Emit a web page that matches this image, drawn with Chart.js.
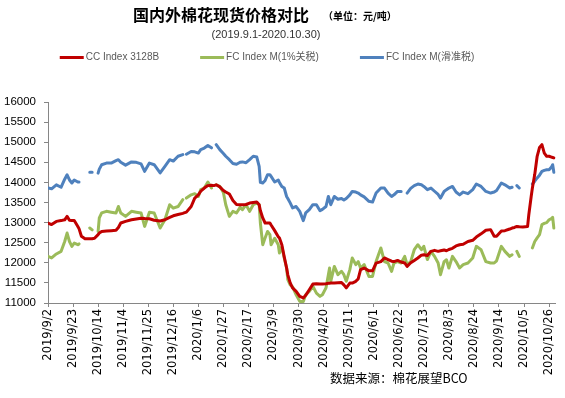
<!DOCTYPE html>
<html>
<head>
<meta charset="utf-8">
<script src="https://cdn.jsdelivr.net/npm/chart.js@4.4.0/dist/chart.umd.min.js"></script>
<style>
  html, body { margin: 0; padding: 0; background: #fff; }
  canvas { display: block; }
</style>
</head>
<body>
<canvas id="priceChart" width="565" height="398"></canvas>
<script>
// values (yuan / ton)
const dates = [
  '2019/9/2', '2019/9/5', '2019/9/9', '2019/9/13', '2019/9/16', '2019/9/18', '2019/9/20', '2019/9/22',
  '2019/9/24', '2019/9/27', '2019/9/28', '2019/9/30', '2019/10/3', '2019/10/7', '2019/10/9', '2019/10/11',
  '2019/10/14', '2019/10/15', '2019/10/17', '2019/10/21', '2019/10/25', '2019/10/29', '2019/10/31', '2019/11/2',
  '2019/11/6', '2019/11/11', '2019/11/15', '2019/11/19', '2019/11/22', '2019/11/26', '2019/11/30', '2019/12/5',
  '2019/12/9', '2019/12/13', '2019/12/16', '2019/12/20', '2019/12/24', '2019/12/25', '2019/12/27', '2019/12/31',
  '2020/1/3', '2020/1/6', '2020/1/8', '2020/1/11', '2020/1/14', '2020/1/17', '2020/1/19', '2020/1/21',
  '2020/1/24', '2020/1/27', '2020/1/29', '2020/2/1', '2020/2/4', '2020/2/7', '2020/2/10', '2020/2/12',
  '2020/2/15', '2020/2/18', '2020/2/21', '2020/2/24', '2020/2/26', '2020/2/27', '2020/2/29', '2020/3/2',
  '2020/3/4', '2020/3/6', '2020/3/7', '2020/3/10', '2020/3/13', '2020/3/14', '2020/3/16', '2020/3/18',
  '2020/3/20', '2020/3/21', '2020/3/23', '2020/3/25', '2020/3/28', '2020/3/31', '2020/4/3', '2020/4/5',
  '2020/4/8', '2020/4/11', '2020/4/14', '2020/4/17', '2020/4/19', '2020/4/22', '2020/4/24', '2020/4/25',
  '2020/4/26', '2020/4/29', '2020/5/2', '2020/5/5', '2020/5/7', '2020/5/9', '2020/5/12', '2020/5/14',
  '2020/5/17', '2020/5/19', '2020/5/21', '2020/5/24', '2020/5/28', '2020/5/31', '2020/6/3', '2020/6/7',
  '2020/6/10', '2020/6/13', '2020/6/16', '2020/6/18', '2020/6/21', '2020/6/24', '2020/6/27', '2020/6/29',
  '2020/7/2', '2020/7/5', '2020/7/8', '2020/7/11', '2020/7/13', '2020/7/16', '2020/7/19', '2020/7/22',
  '2020/7/25', '2020/7/27', '2020/7/30', '2020/8/1', '2020/8/3', '2020/8/6', '2020/8/9', '2020/8/12',
  '2020/8/15', '2020/8/19', '2020/8/23', '2020/8/26', '2020/8/30', '2020/9/3', '2020/9/7', '2020/9/10',
  '2020/9/12', '2020/9/16', '2020/9/19', '2020/9/23', '2020/9/25', '2020/9/27', '2020/9/29', '2020/10/1',
  '2020/10/4', '2020/10/8', '2020/10/9', '2020/10/11', '2020/10/12', '2020/10/14', '2020/10/16', '2020/10/18',
  '2020/10/20', '2020/10/22', '2020/10/24', '2020/10/26', '2020/10/28', '2020/10/29', '2020/10/30'
];

const ccIndex = [
  12990, 12950, 13030, 13050, 13070, 13155, 13060, 13050,
  13050, 12905, 12850, 12660, 12600, 12600, 12600, 12610,
  12700, 12740, 12780, 12790, 12800, 12810, 12880, 12990,
  13030, 13070, 13090, 13110, 13100, 13095, 13060, 13040,
  13070, 13130, 13170, 13200, 13230, 13240, 13260, 13400,
  13610, 13690, 13780, 13860, 13920, 13930, 13920, 13940,
  13890, 13800, 13760, 13710, 13550, 13450, 13445, 13445,
  13450, 13485, 13500, 13510, 13445, 13300, 13115, 12990,
  12990, 12990, 12940, 12800, 12650, 12617, 12450, 12150,
  11870, 11700, 11500, 11375, 11290, 11165, 11125, 11190,
  11330, 11470, 11480, 11470, 11470, 11480, 11490, 11490,
  11495, 11500, 11505, 11510, 11450, 11375, 11495, 11495,
  11540, 11600, 11830, 11870, 11800, 11800, 11990, 12030,
  12120, 12080, 12040, 12030, 12060, 12020, 11995, 11910,
  12000, 12060, 12120, 12190, 12200, 12180, 12285, 12310,
  12285, 12300, 12320, 12300, 12330, 12360, 12420, 12450,
  12460, 12530, 12560, 12640, 12720, 12810, 12825, 12660,
  12660, 12790, 12800, 12840, 12865, 12880, 12905, 12895,
  12890, 12905, 13195, 13650, 13860, 14200, 14650, 14870,
  14940, 14730, 14650, 14650, 14630, 14620, 14610
];

const fcIndex1 = [
  12160, 12120, 12220, 12285, 12530, 12740, 12530, 12410,
  12490, 12450, 12470, null, null, 12865, 12820, null,
  12780, 13115, 13240, 13280, 13260, 13240, 13400, 13240,
  13155, 13280, 13260, 13240, 12905, 13255, 13240, 12865,
  13070, 13445, 13360, 13400, 13570, null, 13610, 13690,
  13720, 13650, 13820, 13860, 14010, 13860, null, 13940,
  13900, 13750, 13445, 13155, 13280, 13240, 13380, 13320,
  13445, 13280, 13445, 13485, 13445, 12990, 12450, 12620,
  12780, 12700, 12450, 12610, 12450, 12245, 12400, 12120,
  11870, 11580, 11450, 11400, 11205, 11040, 11040, 11205,
  11290, 11415, 11245, 11165, 11205, 11375, 11700, 11870,
  11540, 11910, 11705, 11790, 11705, 11540, 11830, 12120,
  11955, 12030, 11870, 11955, 11660, 11660, 12030, 12370,
  12030, 11995, 11785, 11995, 12030, 11995, 12160, 11955,
  12030, 12325, 12450, 12325, 12410, 12080, 12285, 12160,
  11995, 11705, 12030, 12075, 11870, 12160, 12030, 11870,
  11955, 11995, 12120, 12410, 12325, 12030, 11995, 11995,
  12050, 12410, 12285, 12160, 12200, null, 12285, 12160,
  null, null, null, null, 12370, 12530, 12620, 12700,
  12950, 12980, 13000, 13070, 13100, 13130, 12865
];

const fcIndexSliding = [
  13860, 13840, 13940, 13880, 14080, 14190, 14060, 13985,
  14060, 14010, 14010, null, null, 14250, 14250, null,
  14230, 14330, 14440, 14480, 14480, 14540, 14565, 14500,
  14430, 14510, 14500, 14460, 14275, 14480, 14440, 14235,
  14400, 14565, 14530, 14650, 14690, null, 14700, 14770,
  14760, 14730, 14815, 14855, 14920, 14860, null, 14940,
  14815, 14720, 14650, 14565, 14470, 14450, 14500, 14510,
  14490, 14565, 14650, 14630, 14400, 14000, 13985, 14050,
  14190, 14190, 14150, 14010, 14060, 14000, 13900, 13860,
  13650, 13600, 13490, 13365, 13400, 13280, 13050, 13240,
  13320, 13445, 13445, 13295, 13330, 13400, 13650, 13550,
  13445, 13650, 13580, 13600, 13560, 13600, 13690, 13775,
  13760, 13735, 13690, 13640, 13530, 13510, 13735, 13860,
  13860, 13735, 13650, 13690, 13775, 13775, null, 13735,
  13850, 13920, 13960, 13940, 13900, 13820, 13860, 13780,
  13700, 13610, 13775, 13820, 13860, 13900, 13760, 13690,
  13760, 13720, 13820, 13960, 13900, 13775, 13735, 13760,
  13800, 13985, 13940, 13860, 13880, null, 13920, 13860,
  null, null, null, null, 13960, 14030, 14110, 14180,
  14275, 14300, 14315, 14315, 14380, 14440, 14250
];

const seriesNames = ['CC Index 3128B', 'FC Index M(1%关税)', 'FC Index M(滑准税)'];
const seriesColors = ['#C00000', '#9BBB59', '#4F81BD'];
const yMin = 11000;
const yMax = 16000;
const yStep = 500;
const tickDays = 21; // one x tick every three weeks

const titleText = '国内外棉花现货价格对比';
const unitText = '（单位：元/吨）';
const periodText = '(2019.9.1-2020.10.30)';
const sourceText = '数据来源：棉花展望BCO';

const startDay = new Date(2019, 8, 2);

function dayOffset(s) {
  const [y, m, d] = s.split('/').map(Number);
  return Math.round((new Date(y, m - 1, d) - startDay) / 86400000);
}

function dateLabel(n) {
  const t = new Date(2019, 8, 2 + Math.round(n));
  return t.getFullYear() + '/' + (t.getMonth() + 1) + '/' + t.getDate();
}

const days = dates.map(dayOffset);
function points(values) {
  return values.map((v, i) => ({ x: days[i], y: v }));
}

const axisColor = '#868686';

// titles, legend and source line
const chartTexts = {
  id: 'chartTexts',
  afterDraw(chart) {
    const ctx = chart.ctx;
    ctx.save();
    ctx.textBaseline = 'middle';
    ctx.fillStyle = '#000';
    ctx.font = 'bold 16px "Noto Sans CJK SC"';
    ctx.fillText(titleText, 133, 15);
    ctx.font = 'bold 10px "Noto Sans CJK SC"';
    ctx.fillText(unitText, 323, 16);

    ctx.fillStyle = '#333';
    ctx.font = '11px "Liberation Sans"';
    ctx.textAlign = 'center';
    ctx.fillText(periodText, 266, 35);

    // legend
    ctx.textAlign = 'left';
    ctx.font = '10px "Liberation Sans", "Noto Sans CJK SC"';
    const lineW = 24, textGap = 2, itemGap = 41;
    const widths = chart.data.datasets.map(ds => lineW + textGap + ctx.measureText(ds.label).width);
    const total = widths.reduce((a, b) => a + b, 0) + itemGap * (widths.length - 1);
    let x = 267 - total / 2;
    const ly = 57.5;
    chart.data.datasets.forEach((ds, i) => {
      ctx.strokeStyle = ds.borderColor;
      ctx.lineWidth = 3;
      ctx.beginPath();
      ctx.moveTo(x, ly);
      ctx.lineTo(x + lineW, ly);
      ctx.stroke();
      ctx.fillStyle = '#595959';
      ctx.fillText(ds.label, x + lineW + textGap, ly);
      x += widths[i] + itemGap;
    });

    ctx.fillStyle = '#000';
    ctx.font = '12.5px "Noto Sans CJK SC"';
    ctx.fillText(sourceText, 330, 378);
    ctx.restore();
  }
};

const ctx = document.getElementById('priceChart').getContext('2d');
new Chart(ctx, {
  type: 'line',
  data: {
    datasets: [ccIndex, fcIndex1, fcIndexSliding].map((vals, i) => ({
      label: seriesNames[i],
      data: points(vals),
      borderColor: seriesColors[i],
      backgroundColor: seriesColors[i],
      borderWidth: 3,
      borderJoinStyle: 'round',
      borderCapStyle: 'round',
      pointRadius: 0,
      tension: 0,
      spanGaps: false,
      fill: false
    }))
  },
  options: {
    responsive: false,
    animation: false,
    layout: { padding: { top: 102, right: 9, left: 0, bottom: 0 } },
    plugins: {
      legend: { display: false },
      tooltip: { enabled: false }
    },
    scales: {
      x: {
        type: 'linear',
        min: 0,
        max: 425.6,
        afterFit: (scale) => { scale.height = 95; },
        grid: { drawOnChartArea: false, drawTicks: true, tickLength: 4, color: axisColor },
        border: { color: axisColor },
        ticks: {
          stepSize: tickDays,
          includeBounds: false,
          autoSkip: false,
          maxRotation: 90,
          minRotation: 90,
          padding: 2,
          color: '#000',
          font: { family: 'DejaVu Sans', size: 11.5 },
          callback: (v) => dateLabel(v)
        }
      },
      y: {
        min: yMin,
        max: yMax,
        afterFit: (scale) => { scale.width = 48; },
        grid: { drawOnChartArea: false, drawTicks: true, tickLength: 4, color: axisColor },
        border: { color: axisColor },
        ticks: {
          stepSize: yStep,
          padding: 8,
          color: '#000',
          font: { family: 'Liberation Sans', size: 11.5 },
          callback: (v) => String(v)
        }
      }
    }
  },
  plugins: [chartTexts]
});
</script>
</body>
</html>
